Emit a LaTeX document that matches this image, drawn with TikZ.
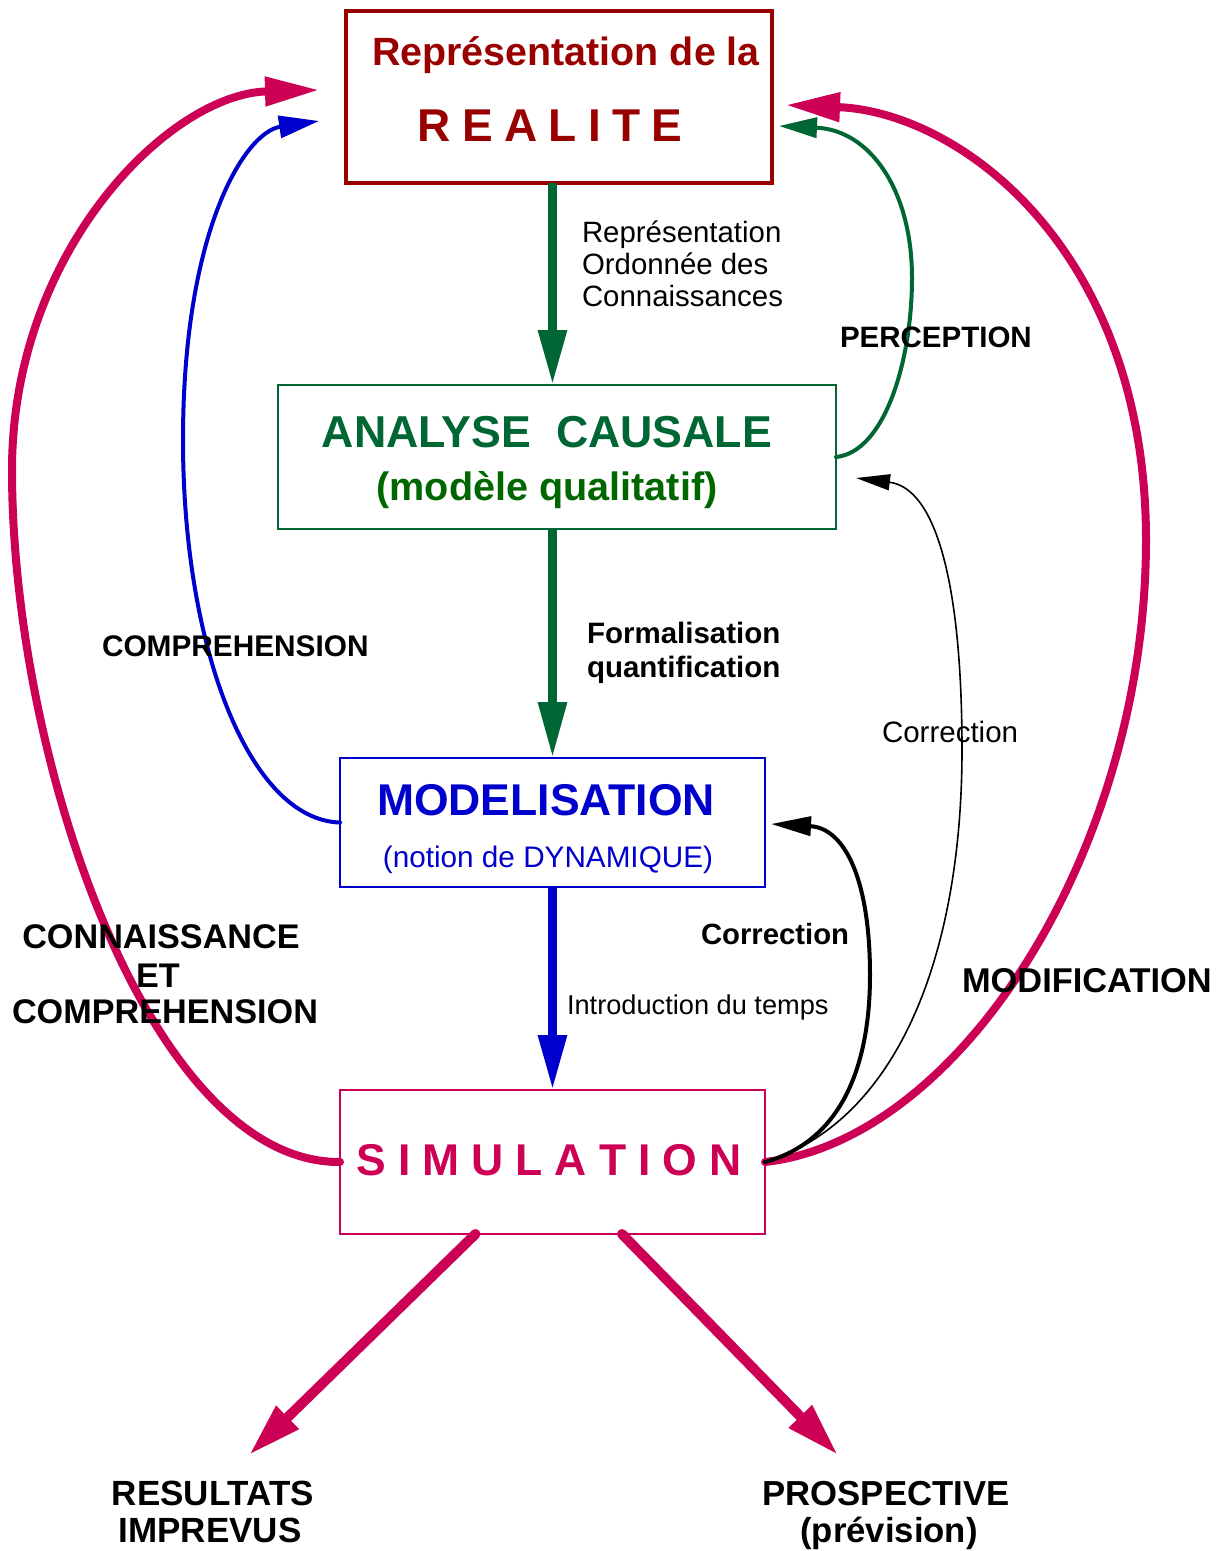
\documentclass[tikz,border=0pt]{standalone}
\usepackage{fontspec}
\setmainfont{Liberation Sans}
\usetikzlibrary{arrows.meta,calc}

\definecolor{realred}{HTML}{990000}
\definecolor{causgreen}{HTML}{006633}
\definecolor{qualgreen}{HTML}{006600}
\definecolor{modblue}{HTML}{0000CC}
\definecolor{simred}{HTML}{CC0055}

\newcommand\fs[1]{\fontsize{#1}{#1}\selectfont}
\newcommand\lsp[1]{\kern#1}

\tikzset{
  box/.style={draw, rectangle, inner sep=0pt, outer sep=0pt, fill=none},
  lbl/.style={inner sep=0pt, outer sep=0pt, anchor=base},
  lblw/.style={inner sep=0pt, outer sep=0pt, anchor=base west},
  flow/.style={line width=9pt},
  bigloop/.style={draw=simred, line width=8pt, line cap=round,
    -{Triangle[length=54pt,width=28pt]}},
  midloop/.style={line width=4pt, line cap=round},
  outflow/.style={draw=simred, line width=10pt, line cap=round,
    -{Triangle[length=54pt,width=30pt]}}
}

\begin{document}
\begin{tikzpicture}[x=1pt,y=-1pt]
\useasboundingbox (0,0) rectangle (1226,1551);

% ---- the four stages ----
\node[box, draw=realred, line width=4pt, minimum width=426pt, minimum height=172pt] (real) at (559,97) {};
\node[box, draw=causgreen, line width=2pt, minimum width=558pt, minimum height=144pt] (ana) at (557,457) {};
\node[box, draw=modblue, line width=2pt, minimum width=425pt, minimum height=129pt] (mod) at (552.5,822.5) {};
\node[box, draw=simred, line width=2pt, minimum width=425pt, minimum height=144pt] (sim) at (552.5,1162) {};

% ---- texts inside the boxes ----
\node[lbl, text=realred, font=\fs{39.4}\bfseries] (realA) at (566,65) {Représentation de la};
\node[lbl, text=realred, font=\fs{46}\bfseries] (realB) at (550,141)
  {R\lsp{11.3pt}E\lsp{11.3pt}A\lsp{11.3pt}L\lsp{11.3pt}I\lsp{11.3pt}T\lsp{11.3pt}E};
\node[lbl, text=causgreen, font=\fs{44.7}\bfseries] (anaA) at (547,447) {ANALYSE\ \ CAUSALE};
\node[lbl, text=qualgreen, font=\fs{39.6}\bfseries] (anaB) at (547,500) {(modèle qualitatif)};
\node[lbl, text=modblue, font=\fs{44.5}\bfseries] (modA) at (546,815) {MODELISATION};
\node[lbl, text=modblue, font=\fs{29.7}] (modB) at (548,867) {(notion de DYNAMIQUE)};
\node[lbl, text=simred, font=\fs{44.5}\bfseries] (simA) at (549,1175)
  {S\lsp{12pt}I\lsp{12pt}M\lsp{12pt}U\lsp{12pt}L\lsp{12pt}A\lsp{12pt}T\lsp{12pt}I\lsp{12pt}O\lsp{12pt}N};

% ---- main downward flow ----
\draw[flow, draw=causgreen, -{Triangle[length=55pt,width=27pt]}]
  (real.south -| sim.north) -- (ana.north -| sim.north);
\draw[flow, draw=causgreen, -{Triangle[length=56pt,width=27pt]}]
  (ana.south -| sim.north) -- (mod.north -| sim.north);
\draw[flow, draw=modblue, -{Triangle[length=55pt,width=27pt]}]
  (mod.south -| sim.north) -- (sim.north);

\node[lblw, font=\fs{29.4}] (rocA) at (582,242) {Représentation};
\node[lblw, font=\fs{29.4}] (rocB) at (582,274) {Ordonnée des};
\node[lblw, font=\fs{29.4}] (rocC) at (582,306) {Connaissances};
\node[lblw, font=\fs{29.5}\bfseries] (formA) at (587,643) {Formalisation};
\node[lblw, font=\fs{29.5}\bfseries] (formB) at (587,677) {quantification};
\node[lblw, font=\fs{27.2}] (intro) at (567,1014) {Introduction du temps};

% ---- arrow tips of the feedback loops ----
\coordinate (tipCK) at (319,90);
\coordinate (tipCP) at (319,121);
\coordinate (tipPE) at (779,126);
\coordinate (tipMO) at (786,105);
\coordinate (tipCA) at (856,478);
\coordinate (tipCM) at (771,824);
\coordinate (tipRI) at (249,1455);
\coordinate (tipPR) at (838,1455);

% ---- feedback loops ----
\draw[bigloop] (sim.west) .. controls (150,1163) and (12,760) .. (12,470)
  .. controls (12,250) and (170,94) .. (tipCK);
\draw[bigloop] (sim.east) .. controls (960,1140) and (1146,850) .. (1146,540)
  .. controls (1146,250) and (960,112) .. (tipMO);
\draw[midloop, draw=modblue, -{Triangle[length=40pt,width=22pt]}]
  (mod.west) .. controls (250,820) and (183,650) .. (183,440)
  .. controls (183,230) and (245,132) .. (tipCP);
\draw[midloop, draw=causgreen, -{Triangle[length=38pt,width=20pt]}]
  (ana.east |- 0,457) .. controls (885,452) and (912,360) .. (912,278)
  .. controls (912,190) and (870,130) .. (tipPE);
\draw[line width=1.6pt, line cap=round, -{Triangle[length=34pt,width=16pt]}]
  (sim.east) .. controls (900,1120) and (962,950) .. (962,750)
  .. controls (962,580) and (935,488) .. (tipCA);
\draw[midloop, draw=black, -{Triangle[length=40pt,width=19pt]}]
  (sim.east) .. controls (845,1140) and (870,1060) .. (870,975)
  .. controls (870,880) and (845,828) .. (tipCM);

% ---- outputs of the simulation ----
\draw[outflow] ($(sim.south)+(-77,0)$) -- (tipRI);
\draw[outflow] ($(sim.south)+(69.5,0)$) -- (tipPR);

% ---- loop labels ----
\node[lblw, font=\fs{29.5}\bfseries] (perc) at (840,347) {PERCEPTION};
\node[lblw, font=\fs{29.8}\bfseries] (compr) at (102,656) {COMPREHENSION};
\node[lblw, font=\fs{29.5}] (corrA) at (882,742) {Correction};
\node[lblw, font=\fs{29.3}\bfseries] (corrM) at (701,944) {Correction};
\node[lblw, font=\fs{34.4}\bfseries] (modif) at (962,992) {MODIFICATION};
\node[lbl, font=\fs{34.2}\bfseries] (connA) at (161,948) {CONNAISSANCE};
\node[lbl, font=\fs{34.2}\bfseries] (connB) at (158,987) {ET};
\node[lbl, font=\fs{34.2}\bfseries] (connC) at (165,1023) {COMPREHENSION};
\node[lbl, font=\fs{35}\bfseries] (resA) at (213,1505) {RESULTATS};
\node[lbl, font=\fs{35}\bfseries] (resB) at (210,1542) {IMPREVUS};
\node[lbl, font=\fs{34.7}\bfseries] (proA) at (886,1505) {PROSPECTIVE};
\node[lbl, font=\fs{34.7}\bfseries] (proB) at (889,1542) {(prévision)};
\end{tikzpicture}
\end{document}
